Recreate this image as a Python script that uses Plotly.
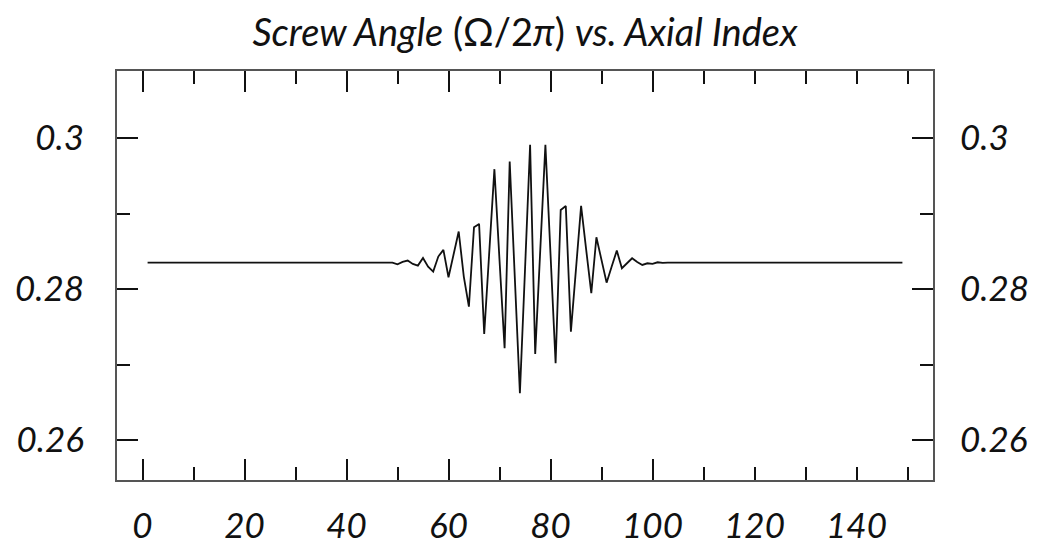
import plotly.graph_objects as go

# Screw angle (Omega / 2 pi) per axial index 1..149
axial_index = list(range(1, 150))

flat_level = 0.28351
lead_in = [flat_level] * 49          # indices 1..49
wave_packet = [                       # indices 50..102
    0.28329, 0.28360, 0.28378, 0.28333, 0.28311, 0.28413, 0.28298, 0.28231,
    0.28431, 0.28520, 0.28157, 0.28467, 0.28763, 0.28166, 0.27768, 0.28820,
    0.28864, 0.27405, 0.28520, 0.29589, 0.28386, 0.27216, 0.29691, 0.28166,
    0.26619, 0.28254, 0.29911, 0.27141, 0.28520, 0.29911, 0.28467, 0.27017,
    0.29049, 0.29102, 0.27436, 0.28276, 0.29102, 0.28520, 0.27945, 0.28687,
    0.28386, 0.28085, 0.28298, 0.28510, 0.28276, 0.28342, 0.28408, 0.28360,
    0.28320, 0.28342, 0.28333, 0.28355, 0.28347,
]
tail = [flat_level] * 47              # indices 103..149
screw_angle = lead_in + wave_packet + tail

x_label_vals = [0, 20, 40, 60, 80, 100, 120, 140]
x_label_text = ["0", "20", "40", "60", "80", "100", "120", "140"]
x_long_ticks = [0, 20, 40, 60, 80, 100]
x_short_ticks = [10, 30, 50, 70, 90, 110, 120, 130, 140, 150]
y_label_vals = [0.26, 0.28, 0.30]
y_label_text = ["0.26", "0.28", "0.3"]
y_short_ticks = [0.27, 0.29]

X_RANGE = [-5.0, 155.0]
Y_RANGE = [0.2547, 0.3089]

FONT = "Lato"
LONG, SHORT = 21, 13
TICK_COLOR = "#111111"
FRAME_COLOR = "#555555"

fig = go.Figure()
fig.add_trace(go.Scatter(
    x=axial_index, y=screw_angle, mode="lines",
    line=dict(color="#111111", width=1.8),
    showlegend=False, hoverinfo="skip",
))
# empty traces so the overlay axes are rendered
for xa, ya in (("x2", "y"), ("x3", "y"), ("x", "y2")):
    fig.add_trace(go.Scatter(x=[None], y=[None], xaxis=xa, yaxis=ya,
                             showlegend=False, hoverinfo="skip"))

tick_font = dict(family=FONT, size=35, color="#111111", style="italic")

common_x = dict(range=X_RANGE, showgrid=False, zeroline=False,
                fixedrange=True, automargin=False)
common_y = dict(range=Y_RANGE, showgrid=False, zeroline=False,
                fixedrange=True, automargin=False)

fig.update_layout(
    width=1037, height=548,
    margin=dict(l=117, r=104, t=71, b=68, autoexpand=False),
    paper_bgcolor="white", plot_bgcolor="white",
    title=dict(
        text="<i>Screw Angle</i> (Ω/2<i>π</i>) <i>vs. Axial Index</i>",
        x=0.5, xref="paper", xanchor="center",
        y=1 - 33 / 548, yref="container", yanchor="middle",
        font=dict(family=FONT, size=38, color="#111111"),
    ),
    xaxis=dict(
        **common_x, side="bottom", anchor="y",
        tickmode="array", tickvals=x_label_vals, ticktext=x_label_text,
        ticks="inside", ticklen=SHORT, tickwidth=1.5, tickcolor=TICK_COLOR,
        minor=dict(tickmode="array", tickvals=x_short_ticks, ticks="inside",
                   ticklen=SHORT, tickwidth=1.5, tickcolor=TICK_COLOR),
        showline=True, linecolor=FRAME_COLOR, linewidth=2,
        tickfont=tick_font, ticklabelstandoff=14,
    ),
    xaxis2=dict(
        **common_x, overlaying="x", side="bottom", anchor="y",
        tickmode="array", tickvals=x_long_ticks,
        ticks="inside", ticklen=LONG, tickwidth=1.5, tickcolor=TICK_COLOR,
        showticklabels=False, showline=False,
    ),
    xaxis3=dict(
        **common_x, overlaying="x", side="top", anchor="y",
        tickmode="array", tickvals=x_long_ticks,
        ticks="inside", ticklen=LONG, tickwidth=1.5, tickcolor=TICK_COLOR,
        minor=dict(tickmode="array", tickvals=x_short_ticks, ticks="inside",
                   ticklen=SHORT, tickwidth=1.5, tickcolor=TICK_COLOR),
        showticklabels=False, showline=True, linecolor=FRAME_COLOR, linewidth=2,
    ),
    yaxis=dict(
        **common_y, side="left", anchor="x",
        tickmode="array", tickvals=y_label_vals, ticktext=y_label_text,
        ticks="inside", ticklen=LONG, tickwidth=1.5, tickcolor=TICK_COLOR,
        minor=dict(tickmode="array", tickvals=y_short_ticks, ticks="inside",
                   ticklen=SHORT, tickwidth=1.5, tickcolor=TICK_COLOR),
        showline=True, linecolor=FRAME_COLOR, linewidth=2,
        tickfont=tick_font, ticklabelstandoff=24,
    ),
    yaxis2=dict(
        **common_y, overlaying="y", side="right", anchor="x",
        tickmode="array", tickvals=y_label_vals, ticktext=y_label_text,
        ticks="inside", ticklen=LONG, tickwidth=1.5, tickcolor=TICK_COLOR,
        minor=dict(tickmode="array", tickvals=y_short_ticks, ticks="inside",
                   ticklen=SHORT, tickwidth=1.5, tickcolor=TICK_COLOR),
        showline=True, linecolor=FRAME_COLOR, linewidth=2,
        tickfont=tick_font, ticklabelstandoff=18,
    ),
)

fig.write_html("out.html")
